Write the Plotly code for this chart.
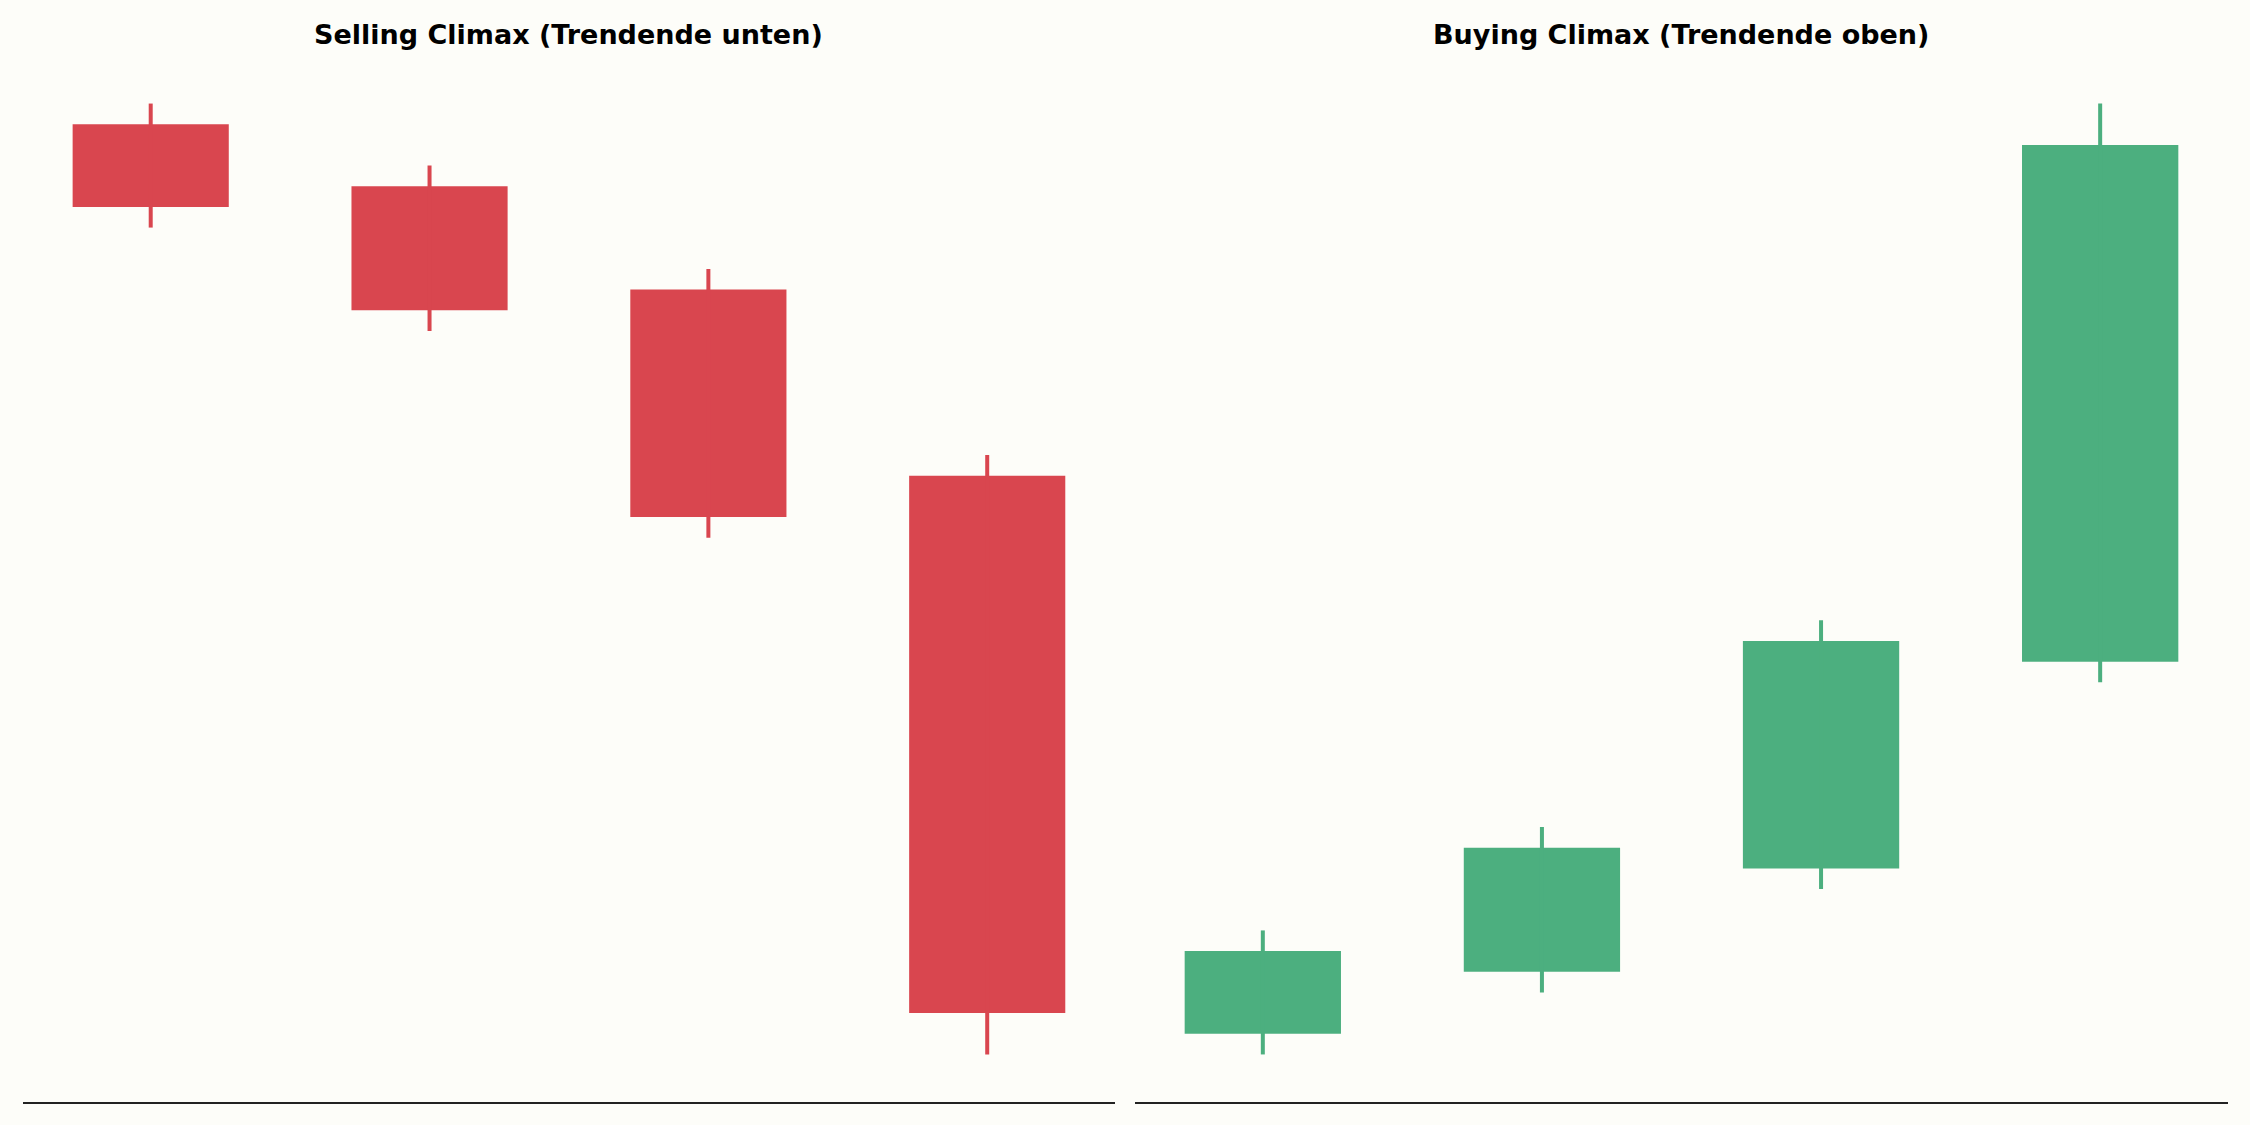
import plotly.graph_objects as go
from plotly.subplots import make_subplots

# candle data, index 0..3 from left to right
candle_x = [0, 1, 2, 3]

sell_open = [100.0, 98.5, 96.0, 91.5]
sell_high = [100.5, 99.0, 96.5, 92.0]
sell_low = [97.5, 95.0, 90.0, 77.5]
sell_close = [98.0, 95.5, 90.5, 78.5]

buy_open = [100.5, 102.0, 104.5, 109.5]
buy_high = [103.0, 105.5, 110.5, 123.0]
buy_low = [100.0, 101.5, 104.0, 109.0]
buy_close = [102.5, 105.0, 110.0, 122.0]

titles = ["Selling Climax (Trendende unten)", "Buying Climax (Trendende oben)"]

RED = "#D9464F"
GREEN = "#4CAF7F"
BG = "#FDFDF9"
BODY_W = 0.56


def add_candles(fig, col, o, h, l, c, color):
    # wicks first, as one line trace broken with None
    wx, wy = [], []
    for xi, lo, hi in zip(candle_x, l, h):
        wx += [xi, xi, None]
        wy += [lo, hi, None]
    fig.add_trace(go.Scatter(x=wx, y=wy, mode="lines",
                             line=dict(color=color, width=4),
                             hoverinfo="skip", showlegend=False),
                  row=1, col=col)
    # bodies
    base = [min(a, b) for a, b in zip(o, c)]
    height = [abs(b - a) for a, b in zip(o, c)]
    fig.add_trace(go.Bar(x=candle_x, y=height, base=base, width=BODY_W,
                         marker=dict(color=color, line=dict(width=0)),
                         showlegend=False),
                  row=1, col=col)


fig = make_subplots(rows=1, cols=2, horizontal_spacing=0.009)

add_candles(fig, 1, sell_open, sell_high, sell_low, sell_close, RED)
add_candles(fig, 2, buy_open, buy_high, buy_low, buy_close, GREEN)

# 5% padding like the original axes
xpad = 0.05 * (max(candle_x) - min(candle_x) + BODY_W)
xr = [min(candle_x) - BODY_W / 2 - xpad, max(candle_x) + BODY_W / 2 + xpad]


def yrange(lo, hi):
    pad = 0.05 * (max(hi) - min(lo))
    return [min(lo) - pad, max(hi) + pad]


for i, (lo, hi) in enumerate([(sell_low, sell_high), (buy_low, buy_high)], start=1):
    fig.update_xaxes(range=xr, showgrid=False, zeroline=False, showticklabels=False,
                     ticks="", showline=True, linecolor="#222222", linewidth=2,
                     mirror=False, row=1, col=i)
    fig.update_yaxes(range=yrange(lo, hi), showgrid=False, zeroline=False,
                     showticklabels=False, ticks="", showline=False, row=1, col=i)

fig.update_layout(xaxis=dict(domain=[0, 0.4952]), xaxis2=dict(domain=[0.5043, 1]))

for dom, txt in zip([[0, 0.4952], [0.5043, 1]], titles):
    fig.add_annotation(x=(dom[0] + dom[1]) / 2, y=1 + 21 / 1046, xref="paper", yref="paper",
                       text=txt, showarrow=False, xanchor="center", yanchor="middle",
                       font=dict(family="DejaVu Sans", size=27, color="black", weight="bold"))

fig.update_layout(
    width=2250, height=1125,
    margin=dict(l=23, r=22, t=56, b=23),
    paper_bgcolor=BG, plot_bgcolor=BG,
    barmode="overlay",
    showlegend=False,
)

# drop the default page margin so the figure sits at the window corner
fig.write_html("out.html", config={"displayModeBar": False},
               post_script="document.body.style.margin='0';")
